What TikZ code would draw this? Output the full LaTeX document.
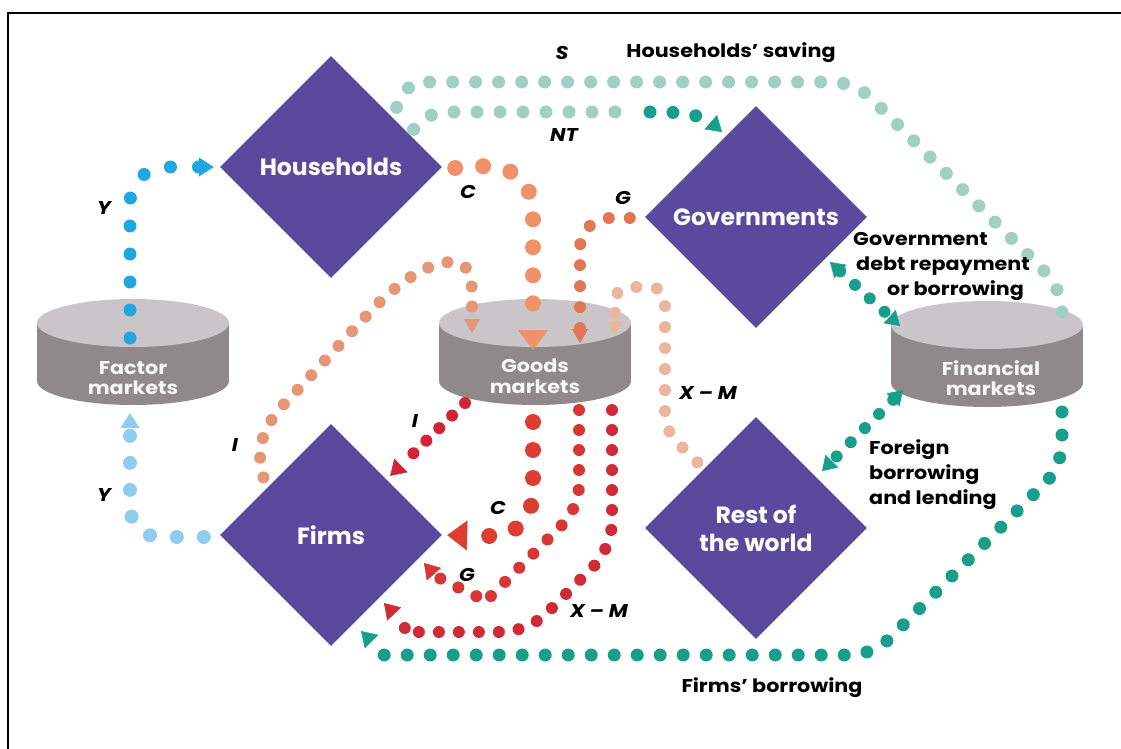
\documentclass[tikz,border=0pt]{standalone}
\usepackage{fontspec}
\setmainfont{Poppins}
\newfontfamily\labelfont{Poppins}[FakeStretch=1.12]
\usetikzlibrary{arrows.meta,calc,shapes.geometric}

\definecolor{sectorblue}{RGB}{89,74,158}
\definecolor{marketside}{RGB}{143,137,139}
\definecolor{markettop}{RGB}{202,197,200}
\definecolor{yblue}{RGB}{32,166,224}
\definecolor{ylight}{RGB}{142,205,240}
\definecolor{tealpale}{RGB}{160,207,196}
\definecolor{tealmid}{RGB}{90,186,170}
\definecolor{teal}{RGB}{26,158,140}
\definecolor{cpeach}{RGB}{240,145,105}
\definecolor{gorange}{RGB}{224,118,84}
\definecolor{ipeach}{RGB}{228,150,118}
\definecolor{xmpale}{RGB}{234,183,158}
\definecolor{ired}{RGB}{210,35,55}
\definecolor{cred}{RGB}{222,62,50}
\definecolor{gred}{RGB}{214,55,50}
\definecolor{xmred}{RGB}{208,42,55}

\tikzset{
  sector/.style={diamond, fill=sectorblue, minimum size=222pt, inner sep=0pt,
    text=white, align=center, font=\bfseries\fontsize{23.5}{28}\selectfont},
  disk/.pic={
    \fill[marketside] (0,29) ellipse [x radius=96pt, y radius=24pt];
    \fill[marketside] (-96,-29) rectangle (96,29);
    \fill[markettop] (0,-29) ellipse [x radius=96pt, y radius=24pt];
  },
  markettext/.style={text=white!94!gray, align=center,
    font=\labelfont\bfseries\fontsize{18.5}{20.5}\selectfont},
  flow/.style 2 args={line width=#1, line cap=round, dash pattern=on 0pt off #2},
  headtip/.style={-{Triangle[width=19pt,length=15pt,line width=0.5pt]}},
  smallhead/.style={-{Triangle[width=16pt,length=14pt,line width=0.5pt]}},
  bighead/.style={-{Triangle[width=30pt,length=20pt,line width=0.5pt]}},
  twoheads/.style={{Triangle[width=18pt,length=14pt,line width=0.5pt]}-{Triangle[width=18pt,length=14pt,line width=0.5pt]}},
  flowlabel/.style={font=\labelfont\bfseries\itshape\fontsize{18.5}{20}\selectfont},
  notetext/.style={font=\labelfont\bfseries\fontsize{18.5}{25}\selectfont, align=left, inner sep=0pt}
}

\begin{document}
\begin{tikzpicture}[x=1pt, y=-1pt]
\useasboundingbox (0,0) rectangle (1121,749);
\draw[line width=2.4pt] (8,749) -- (8,13) -- (1121,13);

% markets
\pic at (133,352) {disk};
\pic at (535,352) {disk};
\pic at (987,354) {disk};
\node[markettext] (factor) at (133,378) {Factor\\markets};
\node[markettext] (goods) at (535,376) {Goods\\markets};
\node[markettext] (fin) at (991,378) {Financial\\markets};

% sectors
\node[sector] (hh) at (331,167) {Households};
\node[sector] (gov) at (756,217) {Governments};
\node[sector] (firms) at (331,535) {Firms};
\node[sector] (row) at (756,528) {Rest of\\the world};

% free ends of the flows
\coordinate (ytop) at (130,338);
\coordinate (ybot) at (130,413);
\coordinate (fintop) at (1062,330);
\coordinate (finbot) at (1062,412);
\coordinate (ntend) at (722,132);
\coordinate (fbend) at (361,631);
\coordinate (goodsC) at (533,350);
\coordinate (goodsG) at (580,343);
\coordinate (goodsI) at (472,333);
\coordinate (goodsX) at (615,335);
\coordinate (goodsIout) at (465,403);
\coordinate (goodsCout) at (533,422);
\coordinate (goodsGout) at (579,410);
\coordinate (goodsXout) at (612,410);
\coordinate (firmsG) at (424,563);
\coordinate (firmsX) at (384,603);
\coordinate (govdebt) at (830,262);
\coordinate (findebt) at (900,326);
\coordinate (finforeign) at (903,390);
\coordinate (rowforeign) at (822,471);

% incomes
\draw[flow={13pt}{28pt}, yblue, headtip, rounded corners=36pt, shorten >=6pt]
  (ytop) |- (hh.west);
\draw[flow={14pt}{27pt}, ylight, headtip, rounded corners=30pt]
  ($(firms.west)+(-16,2)$) -| (ybot);

% saving and net taxes
\draw[flow={13pt}{23pt}, tealpale, rounded corners=22pt]
  ($(hh.north east)+(10,-4)$) .. controls (404,88) and (415,82) .. (440,82)
  -- (855,82) -- (1062,289) -- (fintop);
\draw[flow={13pt}{23pt}, tealpale]
  ($(hh.north east)+(27,18)$) .. controls (425,115) and (435,112) .. (455,112) -- (628,112);
\draw[flow={13pt}{23pt}, teal, headtip]
  (650,112) -- (660,112) .. controls (690,112) and (706,118) .. (ntend);

% firms' borrowing
\draw[flow={13pt}{23pt}, teal, headtip, rounded corners=22pt]
  (finbot) -- (1062,466) -- (873,655) -- (405,655)
  .. controls (385,655) and (375,645) .. (fbend);

% spending into goods markets
\draw[flow={16pt}{28pt}, cpeach, bighead]
  ($(hh.east)+(13,1)$) .. controls (515,160) and (533,178) .. (533,220) -- (goodsC);
\draw[flow={12pt}{21pt}, gorange, smallhead, rounded corners=30pt]
  ($(gov.west)+(-15,1)$) -| (goodsG);
\draw[flow={12pt}{20pt}, ipeach, smallhead]
  ($(firms.north west)+(-12,-2)$) .. controls (255,450) and (262,425) .. (290,398)
  -- (370,312) .. controls (400,280) and (430,262) .. (452,262)
  .. controls (468,262) and (472,275) .. (472,295) -- (goodsI);
\draw[flow={12pt}{21pt}, xmpale, smallhead, rounded corners=15pt]
  ($(row.north west)+(-3,-10)$) -- (665,430) -- (665,312)
  .. controls (665,295) and (655,287) .. (640,287)
  .. controls (625,287) and (615,295) .. (615,310) -- (goodsX);

% receipts of firms
\draw[flow={12pt}{18pt}, ired, headtip, shorten >=5pt]
  (goodsIout) -- (firms.north east);
\draw[flow={16pt}{28pt}, cred, bighead, shorten >=5pt]
  (goodsCout) -- (533,490) .. controls (533,520) and (515,536) .. (490,536) -- (firms.east);
\draw[flow={12pt}{20pt}, gred, headtip, rounded corners=22pt]
  (goodsGout) -- (579,508) -- (500,587)
  .. controls (488,599) and (440,581) .. (firmsG);
\draw[flow={12pt}{20pt}, xmred, headtip, rounded corners=26pt]
  (goodsXout) -- (612,548) -- (528,632) -- (430,632)
  .. controls (410,632) and (398,618) .. (firmsX);

% financial flows
\draw[flow={12pt}{20pt}, teal, twoheads] (govdebt) -- (findebt);
\draw[flow={12pt}{20pt}, teal, twoheads] (finforeign) -- (rowforeign);

% labels
\node[flowlabel] at (104,208) {Y};
\node[flowlabel] at (104,495) {Y};
\node[flowlabel] at (562,53) {S};
\node[notetext] at (731,53) {Households’ saving};
\node[flowlabel] at (564,135) {NT};
\node[flowlabel] at (468,192) {C};
\node[flowlabel] at (623,198) {G};
\node[flowlabel] at (235,445) {I};
\node[flowlabel] at (708,393) {X – M};
\node[flowlabel] at (415,421) {I};
\node[flowlabel] at (498,508) {C};
\node[flowlabel] at (467,575) {G};
\node[flowlabel] at (599,611) {X – M};
\node[notetext, anchor=west] at (853,266)
  {Government\\\hspace*{3pt}debt repayment\\\hspace*{34pt}or borrowing};
\node[notetext, anchor=west] at (869,475) {Foreign\\borrowing\\and lending};
\node[notetext] at (772,688) {Firms’ borrowing};
\end{tikzpicture}
\end{document}
